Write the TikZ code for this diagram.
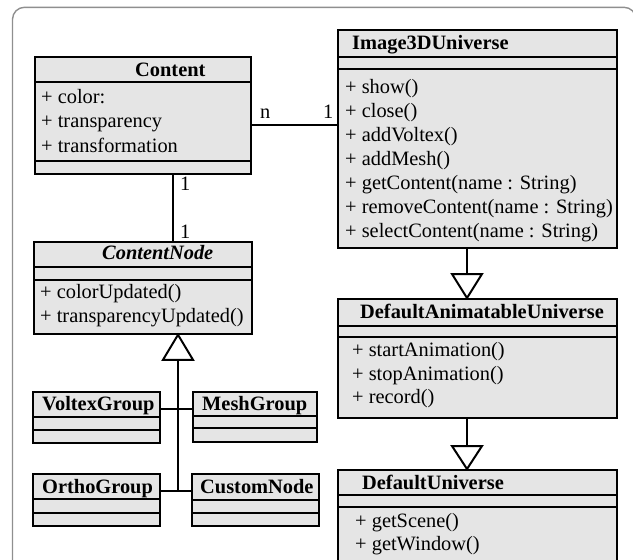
\documentclass[tikz,border=0pt]{standalone}
\usepackage{fontspec}
\setmainfont{Liberation Serif}
\definecolor{boxgray}{HTML}{E5E5E5}
\definecolor{framegray}{HTML}{8F8F8F}
\begin{document}
\begin{tikzpicture}[x=1pt,y=1pt,
  box/.style={draw=black, line width=1.8pt, fill=boxgray, anchor=north west, inner sep=0pt},
  sep/.style={line width=1.6pt},
  conn/.style={line width=2.4pt},
  tri/.style={line width=2pt, fill=white, line join=miter},
  txt/.style={anchor=base west, inner sep=0pt, font=\fontsize{20.4}{24}\selectfont},
  hdr/.style={anchor=base west, inner sep=0pt, font=\fontsize{20.4}{24}\selectfont\bfseries},
  ihdr/.style={anchor=base west, inner sep=0pt, font=\fontsize{20.4}{24}\selectfont\bfseries\itshape},
]
\useasboundingbox (0,0) rectangle (633,-560);
\clip (0,0) rectangle (633,-560);
\draw[framegray, line width=1.4pt, rounded corners=12pt] (12.5,-7.3) rectangle (636,-620);

% helper coordinates
\coordinate (xa) at (173,0);
\coordinate (xg) at (178,0);
\coordinate (xr) at (467,0);
\coordinate (ya) at (0,-125);
\coordinate (j1) at (178,-409);
\coordinate (j2) at (178,-491);

% Content
\node[box, minimum width=216pt, minimum height=117pt] (content) at (34,-56) {};
\draw[sep] (content.west |- 0,-82) -- (content.east |- 0,-82);
\draw[sep] (content.west |- 0,-161) -- (content.east |- 0,-161);
\node[hdr] (contentT) at (135,-76) {Content};
\node[txt] (c1) at (41,-103) {+ color:};
\node[txt] (c2) at (41,-127.5) {+ transparency};
\node[txt] (c3) at (41,-152) {+ transformation};

% Image3DUniverse
\node[box, minimum width=279pt, minimum height=218pt] (i3d) at (337,-29) {};
\draw[sep] (i3d.west |- 0,-57) -- (i3d.east |- 0,-57);
\draw[sep] (i3d.west |- 0,-69) -- (i3d.east |- 0,-69);
\node[hdr] (i3dT) at (352,-49) {Image3DUniverse};
\node[txt] (m1) at (345,-93) {+ show()};
\node[txt] (m2) at (345,-117) {+ close()};
\node[txt] (m3) at (345,-141) {+ addVoltex()};
\node[txt] (m4) at (345,-165) {+ addMesh()};
\node[txt] (m5) at (345,-189) {+ getContent(name : String)};
\node[txt] (m6) at (345,-213) {+ removeContent(name : String)};
\node[txt] (m7) at (345,-237) {+ selectContent(name : String)};

% ContentNode
\node[box, minimum width=218pt, minimum height=92pt] (cnode) at (33,-241) {};
\draw[sep] (cnode.west |- 0,-267) -- (cnode.east |- 0,-267);
\draw[sep] (cnode.west |- 0,-280) -- (cnode.east |- 0,-280);
\node[ihdr] (cnodeT) at (102,-259) {ContentNode};
\node[txt] (n1) at (40,-298) {+ colorUpdated()};
\node[txt] (n2) at (40,-322) {+ transparencyUpdated()};

% small classes
\node[box, minimum width=127pt, minimum height=51pt] (voltex) at (32,-391) {};
\draw[sep] (voltex.west |- 0,-417) -- (voltex.east |- 0,-417);
\draw[sep] (voltex.west |- 0,-430) -- (voltex.east |- 0,-430);
\node[hdr] (voltexT) at (42,-410) {VoltexGroup};

\node[box, minimum width=124pt, minimum height=50pt] (mesh) at (192,-391) {};
\draw[sep] (mesh.west |- 0,-416) -- (mesh.east |- 0,-416);
\draw[sep] (mesh.west |- 0,-428) -- (mesh.east |- 0,-428);
\node[hdr] (meshT) at (202,-410) {MeshGroup};

\node[box, minimum width=127pt, minimum height=52pt] (ortho) at (32,-473) {};
\draw[sep] (ortho.west |- 0,-499) -- (ortho.east |- 0,-499);
\draw[sep] (ortho.west |- 0,-513) -- (ortho.east |- 0,-513);
\node[hdr] (orthoT) at (42,-493) {OrthoGroup};

\node[box, minimum width=127pt, minimum height=52pt] (custom) at (191,-473) {};
\draw[sep] (custom.west |- 0,-500) -- (custom.east |- 0,-500);
\draw[sep] (custom.west |- 0,-513) -- (custom.east |- 0,-513);
\node[hdr] (customT) at (200,-493) {CustomNode};

% DefaultAnimatableUniverse
\node[box, minimum width=279pt, minimum height=119pt] (dau) at (337,-298) {};
\draw[sep] (dau.west |- 0,-326) -- (dau.east |- 0,-326);
\draw[sep] (dau.west |- 0,-337) -- (dau.east |- 0,-337);
\node[hdr] (dauT) at (360,-318) {DefaultAnimatableUniverse};
\node[txt] (d1) at (352,-356) {+ startAnimation()};
\node[txt] (d2) at (352,-380) {+ stopAnimation()};
\node[txt] (d3) at (352,-403.5) {+ record()};

% DefaultUniverse
\node[box, minimum width=279pt, minimum height=150pt] (du) at (337,-469) {};
\draw[sep] (du.west |- 0,-495) -- (du.east |- 0,-495);
\draw[sep] (du.west |- 0,-507) -- (du.east |- 0,-507);
\node[hdr] (duT) at (362,-489) {DefaultUniverse};
\node[txt] (u1) at (355,-527) {+ getScene()};
\node[txt] (u2) at (355,-550) {+ getWindow()};

% association Content -- Image3DUniverse
\draw[conn] (content.east |- ya) -- (i3d.west |- ya);
\node[txt] (lblN) at (260,-118) {n};
\node[txt] (lbl1) at (323,-118) {1};

% association Content -- ContentNode
\draw[conn] (content.south -| xa) -- (cnode.north -| xa);
\node[txt] (lblA) at (180,-190) {1};
\node[txt] (lblB) at (180,-238) {1};

% generalization to ContentNode
\draw[conn] ([yshift=-25pt]cnode.south -| xg) -- (j2);
\draw[conn] (voltex.east |- j1) -- (mesh.west |- j1);
\draw[conn] (ortho.east |- j2) -- (custom.west |- j2);
\draw[tri] (cnode.south -| xg) -- ++(15,-25) -- ++(-30,0) -- cycle;

% generalization Image3DUniverse -> DefaultAnimatableUniverse
\draw[conn] (i3d.south -| xr) -- ([yshift=24pt]dau.north -| xr);
\draw[tri] (dau.north -| xr) -- ++(15,24) -- ++(-30,0) -- cycle;

% generalization DefaultAnimatableUniverse -> DefaultUniverse
\draw[conn] (dau.south -| xr) -- ([yshift=23pt]du.north -| xr);
\draw[tri] (du.north -| xr) -- ++(15,23) -- ++(-30,0) -- cycle;
\end{tikzpicture}
\end{document}
